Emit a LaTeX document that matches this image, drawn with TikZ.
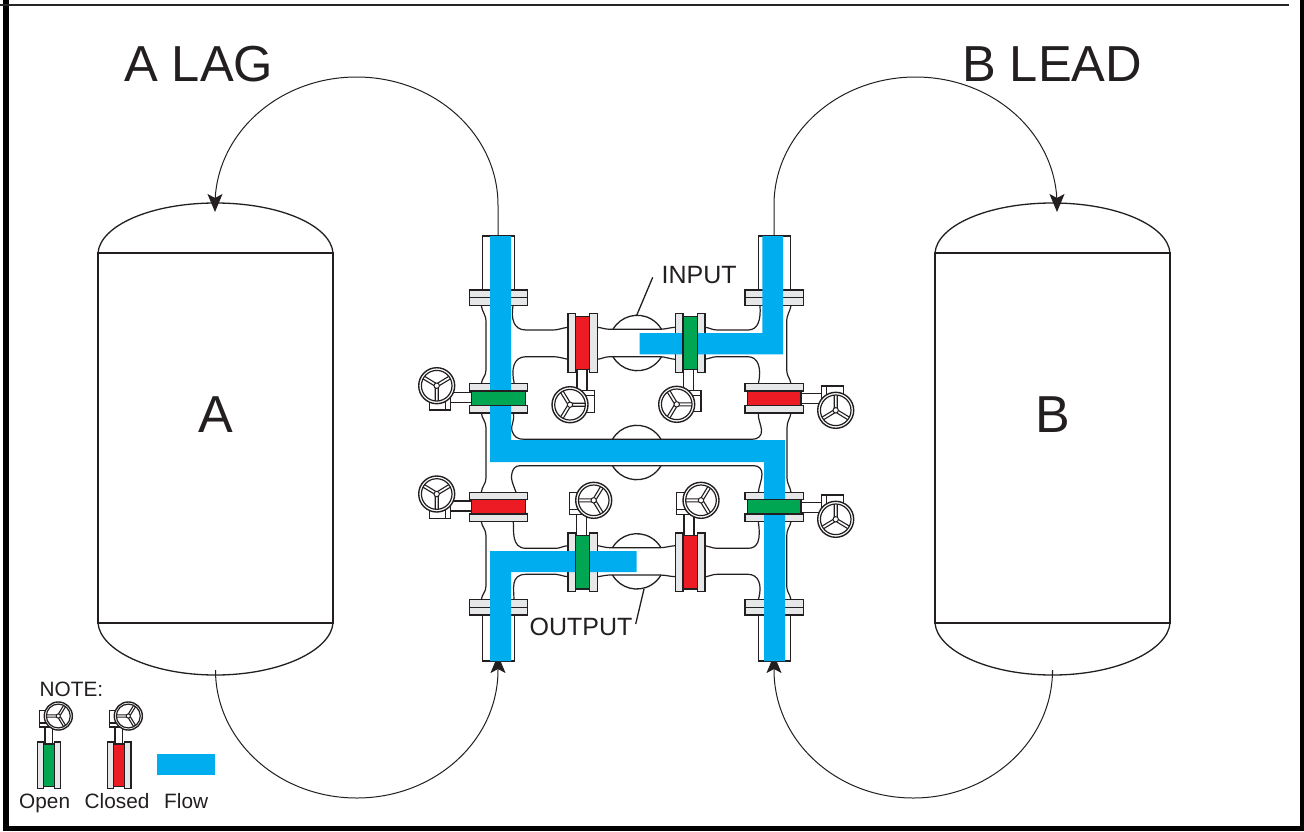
\documentclass[tikz,border=0pt]{standalone}
\usepackage{fontspec}
\setmainfont{Liberation Sans}
\usetikzlibrary{arrows.meta}
\definecolor{ink}{HTML}{231F20}
\definecolor{steel}{HTML}{E6E7E8}
\definecolor{flowblue}{HTML}{00AEEF}
\definecolor{opengreen}{HTML}{00A651}
\definecolor{shutred}{HTML}{ED1C24}
\tikzset{
  line/.style={draw=ink,line width=1.3pt},
  flange/.style={draw=ink,fill=steel,line width=1.3pt},
  gate/.style={draw=ink,line width=1.3pt},
  flow/.style={fill=flowblue,draw=none},
  curveline/.style={draw=ink,line width=1.2pt,line cap=round},
  feed/.style={draw=ink,line width=1pt,-{Stealth[length=18pt,width=15pt,inset=4pt]}},
  lbl/.style={text=ink,inner sep=0pt,anchor=base west},
  pics/wheel/.style={code={
    \draw[line,fill=white] (7,-35.2) rectangle (17,-14);
    \draw[line,fill=white] (5,-9) rectangle (24.3,7.5);
    \draw[line,fill=white] (1,-14) rectangle (24.3,-9);
    \draw[draw=ink,line width=1.4pt,fill=white] (0,0) circle (18);
    \draw[draw=ink,line width=1.2pt] (0,0) circle (15.3);
    \draw[draw=ink,line width=1.1pt]
       (1.6,-1.5)--(15.3,-1.5) (1.6,1.5)--(15.3,1.5)
       (0,-2.4)--(-6.8,-13.7) (-2.6,-1)--(-9.4,-12.1)
       (0,2.4)--(-6.8,13.7) (-2.6,1)--(-9.4,12.1);
    \draw[draw=ink,line width=1pt,fill=white] (0,0) circle (2.7);
  }}
}
\newcommand{\lineflange}[5]{%
  \draw[flange] (#1,#3) rectangle (#2,#5);
  \draw[line] (#1,#4) -- (#2,#4);}
\begin{document}
\begin{tikzpicture}[x=1pt,y=-1pt]
\useasboundingbox (0,0) rectangle (1304,831);
\fill[white] (0,0) rectangle (1304,831);
% frame
\fill[black] (3.3,0) rectangle (8.6,831);
\fill[black] (3.3,826) rectangle (1304,831);
\fill[black] (1300.3,0) rectangle (1304,831);
\draw[draw=black!85,line width=1.4pt] (0,4.8) -- (1289,4.8);
% titles
\node[lbl,font=\fontsize{50.6}{50}\selectfont] (lagtitle) at (124,81) {A LAG};
\node[lbl,font=\fontsize{50.6}{50}\selectfont] (leadtitle) at (962,81) {B LEAD};
% tanks
\draw[line] (98,253) rectangle (333,623);
\draw[line] (98,253) .. controls (100,226) and (150,203) .. (215.5,203) .. controls (281,203) and (331,226) .. (333,253);
\draw[line] (98,623) .. controls (100,650) and (150,675) .. (215.5,675) .. controls (281,675) and (331,650) .. (333,623);
\draw[line] (935,253) rectangle (1170,623);
\draw[line] (935,253) .. controls (937,226) and (987,203) .. (1052.5,203) .. controls (1118,203) and (1168,226) .. (1170,253);
\draw[line] (935,623) .. controls (937,650) and (987,675) .. (1052.5,675) .. controls (1118,675) and (1168,650) .. (1170,623);
\node[lbl,font=\fontsize{52}{52}\selectfont] (tanka) at (198,432) {A};
\node[lbl,font=\fontsize{52}{52}\selectfont] (tankb) at (1035,432) {B};
% connector ends
\coordinate (atop) at (215,212);
\coordinate (abot) at (215.5,675);
\coordinate (btop) at (1057,212);
\coordinate (bbot) at (1052.5,675);
\coordinate (pipeatop) at (498,236);
\coordinate (pipebtop) at (774,236);
\coordinate (pipeabot) at (498,655);
\coordinate (pipebbot) at (774,655);
\draw[feed] (pipeatop) -- (498,205) arc[start angle=0,end angle=-180,x radius=141.5,y radius=128] -- (atop);
\draw[feed] (pipebtop) -- (774,205) arc[start angle=180,end angle=360,x radius=141.5,y radius=128] -- (btop);
\draw[feed] (abot) -- (215.5,670) arc[start angle=180,end angle=0,x radius=141.25,y radius=128] -- (pipeabot);
\draw[feed] (bbot) -- (1052.5,670) arc[start angle=0,end angle=180,x radius=139.25,y radius=128] -- (pipebbot);
% hubs
\draw[line] (613,329.3) arc[start angle=-150,end angle=-30,radius=28] (613,356.7) arc[start angle=150,end angle=30,radius=28];
\draw[line] (612.5,439.3) arc[start angle=-150,end angle=-30,radius=28] (612.5,465.7) arc[start angle=150,end angle=30,radius=28];
\draw[line] (612.5,547.7) arc[start angle=-150,end angle=-30,radius=28] (612.5,575) arc[start angle=150,end angle=30,radius=28];
% pipe outlines
\draw[curveline] (481.3,305.7) .. controls (482,312) and (486,314) .. (486,322) -- (486,370) .. controls (486,376) and (482,378) .. (481.3,383.7);
\draw[curveline] (481.3,413) .. controls (482,419) and (486,421) .. (486,428) -- (486,478) .. controls (486,484) and (482,486) .. (481.3,492.3);
\draw[curveline] (481.3,521.7) .. controls (482,527) and (486,529) .. (486,536) -- (486,586) .. controls (486,592) and (482,594) .. (481.3,599.7);
\draw[curveline] (791,305.7) .. controls (790,312) and (786.7,314) .. (786.7,322) -- (786.7,370) .. controls (786.7,376) and (790,378) .. (791,383.7);
\draw[curveline] (791,413) .. controls (790,419) and (787,421) .. (787,428) -- (787,478) .. controls (787,484) and (790,486) .. (791,492.3);
\draw[curveline] (791,521.7) .. controls (790,527) and (786.7,529) .. (786.7,536) -- (786.7,586) .. controls (786.7,592) and (790,594) .. (791,599.7);
\draw[curveline] (513,305.7) .. controls (511,318) and (513,330) .. (526,330) -- (553,330) .. controls (558,330) and (562,328) .. (568,327.3);
\draw[curveline] (568,359.3) .. controls (562,358) and (558,356.7) .. (553,356.7) -- (526,356.7) .. controls (513,356.7) and (511,370) .. (514.3,383.7);
\draw[curveline] (597.3,327.3) .. controls (601,327.5) and (605,329.3) .. (610,329.3) -- (660,329.3) .. controls (665,329.3) and (670,327.5) .. (675.3,327.3);
\draw[curveline] (597.3,359.3) .. controls (601,359) and (605,356.7) .. (610,356.7) -- (660,356.7) .. controls (665,356.7) and (670,359) .. (675.3,359.3);
\draw[curveline] (705,327.3) .. controls (709,327.5) and (712,330) .. (717,330) -- (748,330) .. controls (758,330) and (761,320) .. (760,305.7);
\draw[curveline] (705,359.3) .. controls (709,359) and (712,356.7) .. (717,356.7) -- (748,356.7) .. controls (758,356.7) and (762,368) .. (758.3,383.7);
\draw[curveline] (513.3,413) .. controls (515,422) and (510,426) .. (512,431) .. controls (514,437) and (518,439.3) .. (524,439.3) -- (752,439.3) .. controls (758,439.3) and (762,436) .. (761.5,430) .. controls (761,424) and (758,420) .. (758.3,413);
\draw[curveline] (516,492.3) .. controls (513,484) and (510,478) .. (512,473) .. controls (513,469) and (515,465.7) .. (520,465.7) -- (754,465.7) .. controls (759,465.7) and (762,469) .. (762,474) .. controls (762,480) and (759,486) .. (758.3,492.3);
\draw[curveline] (513.3,521.7) .. controls (514,530) and (511,548.3) .. (526,548.3) -- (556,548.3) .. controls (560,548.3) and (563,546) .. (568,545.7);
\draw[curveline] (514,599.7) .. controls (514,590) and (510,574.3) .. (526,574.3) -- (556,574.3) .. controls (560,574.3) and (563,576.5) .. (568,576.7);
\draw[curveline] (597.3,545.7) .. controls (601,546) and (605,547.7) .. (610,547.7) -- (660,547.7) .. controls (665,547.7) and (670,546) .. (675.3,545.7);
\draw[curveline] (597.3,576.7) .. controls (601,576.5) and (605,575) .. (610,575) -- (660,575) .. controls (665,575) and (670,576.5) .. (675.3,576.7);
\draw[curveline] (705,545.7) .. controls (709,546) and (712,548.3) .. (717,548.3) -- (748,548.3) .. controls (758,548.3) and (761,540) .. (758.3,521.7);
\draw[curveline] (705,577) .. controls (709,576.5) and (712,574.3) .. (717,574.3) -- (748,574.3) .. controls (758,574.3) and (763,584) .. (758.3,599.7);
% stub pipes
\draw[line,fill=white] (482.3,290) -- (482.3,236) -- (514.7,236) -- (514.7,290);
\draw[line,fill=white] (758.3,290) -- (758.3,236) -- (790.3,236) -- (790.3,290);
\draw[line,fill=white] (482.3,615) -- (482.3,661) -- (514.7,661) -- (514.7,615);
\draw[line,fill=white] (758.3,615) -- (758.3,661) -- (790.3,661) -- (790.3,615);
% flanges at ends
\lineflange{469.3}{527.7}{290}{297.7}{305.7}
\lineflange{745}{803.3}{290}{297.7}{305.7}
\lineflange{469.3}{527.7}{599.7}{607.3}{615}
\lineflange{745}{803.3}{599.7}{607.3}{615}
% actuators
\pic[rotate=-90] at (436.7,385.7) {wheel};
\pic at (570,404.7) {wheel};
\pic at (676.7,404.3) {wheel};
\pic[rotate=90] at (835.7,410.3) {wheel};
\pic[rotate=-90] at (436.7,494) {wheel};
\pic[rotate=180] at (593.7,500.3) {wheel};
\pic[rotate=180] at (701,500.3) {wheel};
\pic[rotate=90] at (835.7,519.3) {wheel};
% flanges of the valves (behind the flow)
\draw[flange] (469.3,383.7) rectangle (527.7,391);
\draw[flange] (469.3,405.7) rectangle (527.7,413);
\draw[flange] (745,383.7) rectangle (803.3,391);
\draw[flange] (745,405.7) rectangle (803.3,413);
\draw[flange] (469.3,492.3) rectangle (527.7,499.7);
\draw[flange] (469.3,514) rectangle (527.7,521.7);
\draw[flange] (745,492.3) rectangle (803.3,499.7);
\draw[flange] (745,514) rectangle (803.3,521.7);
\draw[flange] (568,313.7) rectangle (575.3,372.3);
\draw[flange] (589.7,313.7) rectangle (597.3,372.3);
\draw[flange] (568,533) rectangle (575.3,591.7);
\draw[flange] (589.7,533) rectangle (597.3,591.7);
\draw[gate,fill=shutred] (575.3,316.3) rectangle (589.7,369.7);
\draw[flange] (675.3,533) rectangle (683,591.7);
\draw[flange] (697.3,533) rectangle (705,591.7);
\draw[gate,fill=shutred] (683,535.7) rectangle (697.3,589);
\draw[flange] (675.3,313.7) rectangle (683,372.3);
\draw[flange] (697.3,313.7) rectangle (705,372.3);
% flow paths
\fill[flow] (490,236) -- (511,236) -- (511,440) -- (785,440) -- (785,661) -- (764,661) -- (764,462) -- (490,462) -- cycle;
\fill[flow] (762.3,236) -- (783,236) -- (783,354.3) -- (639.7,354.3) -- (639.7,333) -- (762.3,333) -- cycle;
\fill[flow] (490,661) -- (511,661) -- (511,572) -- (636.7,572) -- (636.7,551) -- (490,551) -- cycle;
% gates over the flow
\draw[gate,fill=opengreen] (683,316.3) rectangle (697.3,369.7);
\draw[gate,fill=opengreen] (575.3,535.7) rectangle (589.7,589);
\draw[gate,fill=opengreen] (471.7,391) rectangle (525.3,405.7);
\draw[gate,fill=shutred] (747.3,391) rectangle (801,405.7);
\draw[gate,fill=shutred] (471.7,499.7) rectangle (525.3,514);
\draw[gate,fill=opengreen] (747.3,499.7) rectangle (801,514);
% labels
\node[lbl,font=\fontsize{25}{25}\selectfont] (inputlbl) at (661.5,283.5) {INPUT};
\node[lbl,font=\fontsize{25}{25}\selectfont] (outputlbl) at (529.5,635) {OUTPUT};
\coordinate (inhub) at (636.7,315.3);
\coordinate (inend) at (652.7,277.3);
\coordinate (outhub) at (644,589);
\coordinate (outend) at (635.7,624);
\draw[line] (inhub) -- (inend);
\draw[line] (outhub) -- (outend);
% legend
\node[lbl,font=\fontsize{20.8}{20.8}\selectfont] (notelbl) at (39.5,696.5) {NOTE:};
\pic[rotate=180,scale=.78] at (58.3,716) {wheel};
\pic[rotate=180,scale=.78] at (128.3,716) {wheel};
\draw[flange] (37.3,742) rectangle (43.7,788.3);
\draw[flange] (54.7,742) rectangle (60.7,788.3);
\draw[gate,fill=opengreen] (43.7,744) rectangle (54.7,786.7);
\draw[flange] (107.3,742) rectangle (113.7,788.3);
\draw[flange] (124.3,742) rectangle (131,788.3);
\draw[gate,fill=shutred] (113.7,744) rectangle (124.3,786.7);
\fill[flow] (157.3,754.3) rectangle (214.7,775.3);
\node[lbl,font=\fontsize{20.8}{20.8}\selectfont] (openlbl) at (19,808.8) {Open};
\node[lbl,font=\fontsize{20.8}{20.8}\selectfont] (closedlbl) at (84.5,808.8) {Closed};
\node[lbl,font=\fontsize{20.8}{20.8}\selectfont] (flowlbl) at (164,808.8) {Flow};
\end{tikzpicture}
\end{document}
